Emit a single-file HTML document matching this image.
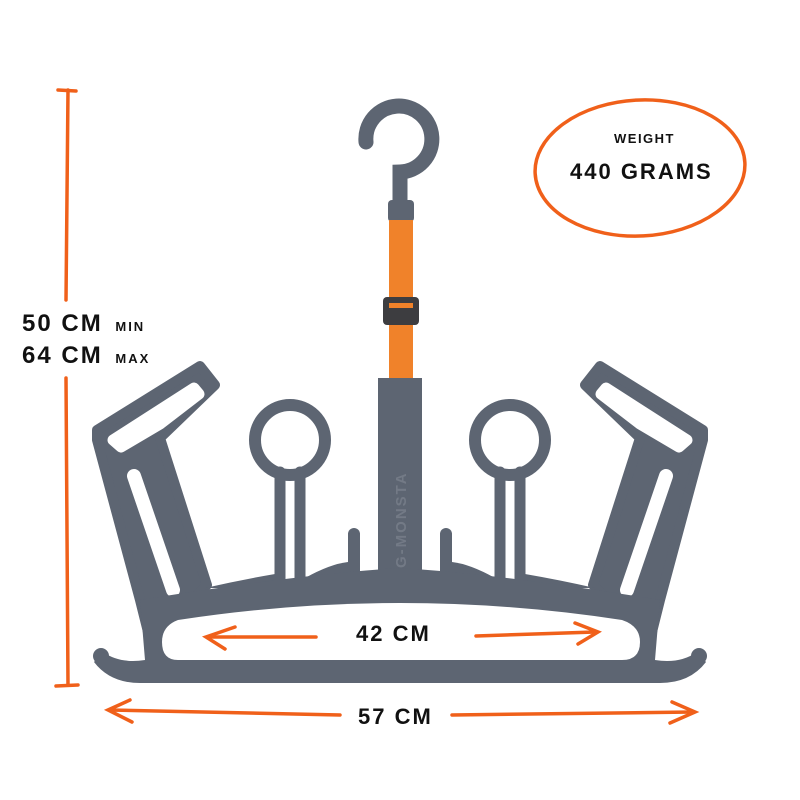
<!DOCTYPE html>
<html><head><style>
html,body{margin:0;padding:0;background:#fff;}
svg{display:block;}
text{font-family:"Liberation Sans",sans-serif;font-weight:bold;fill:#111;}
</style></head><body>
<svg width="800" height="800" viewBox="0 0 800 800" xmlns="http://www.w3.org/2000/svg">
<g stroke="#f0601a" stroke-width="3.5" stroke-linecap="round" fill="none">
<line x1="68" y1="90" x2="66" y2="300"/>
<line x1="66" y1="378" x2="68" y2="685"/>
<line x1="58" y1="90" x2="76" y2="91"/>
<line x1="56" y1="686" x2="78" y2="685"/>
<ellipse cx="640" cy="168" rx="105" ry="68" transform="rotate(-3 640 168)"/>
<line x1="110" y1="710" x2="340" y2="715"/>
<path d="M130 700 L108 710 L132 722"/>
<line x1="452" y1="715" x2="693" y2="712"/>
<path d="M672 702 L695 712 L670 723"/>
</g>
<text x="22" y="331" font-size="24" letter-spacing="2">50 CM <tspan font-size="13" dx="4">MIN</tspan></text>
<text x="22" y="363" font-size="24" letter-spacing="2">64 CM <tspan font-size="13" dx="4">MAX</tspan></text>
<text x="614" y="143" font-size="13" letter-spacing="1.5">WEIGHT</text>
<text x="570" y="179" font-size="22" letter-spacing="2">440 GRAMS</text>
<text x="358" y="724" font-size="22" letter-spacing="2">57 CM</text>

<!-- hook -->
<path d="M400 215 L400 172 A33 33 0 1 0 366 142" stroke="#5d6572" stroke-width="15" fill="none" stroke-linecap="round"/>
<rect x="388" y="200" width="26" height="22" rx="4" fill="#5d6572"/>
<rect x="389" y="220" width="24" height="170" fill="#f0822a"/>
<rect x="383" y="297" width="36" height="28" rx="4" fill="#3d3d40"/>
<rect x="389" y="303" width="24" height="5" fill="#f0822a"/>

<g id="half">
  <path d="M97 430 L200 366 L215 385 L160 438 L207 585 L150 640 L140 600 L97 440 Z" fill="#5d6572" stroke="#5d6572" stroke-width="10" stroke-linejoin="round"/>
  <path d="M113 440 L194 388 L199 394 L160 424 L121 447 Z" fill="#fff" stroke="#fff" stroke-width="11" stroke-linejoin="round"/>
  <line x1="134" y1="476" x2="173" y2="590" stroke="#fff" stroke-width="14" stroke-linecap="round"/>
  <g stroke="#5d6572" fill="none" stroke-linejoin="round" stroke-linecap="round">
    <circle cx="290" cy="440" r="35" stroke-width="12"/>
    <line x1="280" y1="472" x2="280" y2="585" stroke-width="11"/>
    <line x1="300" y1="472" x2="300" y2="585" stroke-width="11"/>
    <line x1="354" y1="534" x2="354" y2="580" stroke-width="12"/>
  </g>
  <circle cx="101" cy="656" r="8" fill="#5d6572"/>
  <rect x="378" y="378" width="22" height="210" fill="#5d6572"/>
  <path d="M305 578 Q330 564 348 562 L348 582 Z" fill="#5d6572"/>
  <path d="M205 588 Q240 580 275 574 L275 588 Z" fill="#5d6572"/>
</g>
<use href="#half" transform="translate(800 0) scale(-1 1)"/>
<path d="M140 600 Q300 574 400 568 Q500 574 660 600 L655 660 Q680 664 697 652 L706 662 Q690 683 660 683 L140 683 Q110 683 94 662 L103 652 Q120 664 145 660 Z" fill="#5d6572"/>
<path d="M178 620 Q400 586 622 620 Q640 626 640 642 Q640 660 622 660 L178 660 Q162 660 162 642 Q162 626 178 620 Z" fill="#fff"/>
<text x="0" y="0" font-size="15" letter-spacing="2" style="fill:#737a86" transform="translate(406 568) rotate(-90)">G-MONSTA</text>
<g stroke="#f0601a" stroke-width="3.5" stroke-linecap="round" fill="none">
<line x1="210" y1="637" x2="316" y2="637"/>
<path d="M235 627 L206 637 L225 649"/>
<line x1="476" y1="636" x2="595" y2="632"/>
<path d="M575 623 L598 632 L578 644"/>
</g>
<text x="356" y="641" font-size="22" letter-spacing="2">42 CM</text>
</svg>
</body></html>
